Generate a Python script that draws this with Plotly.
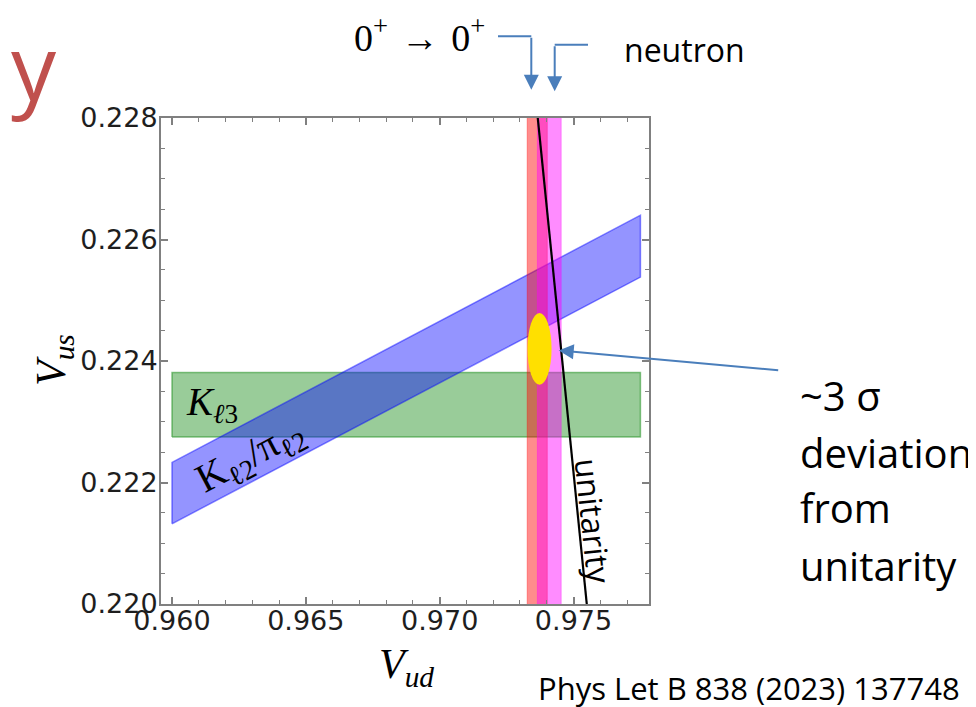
import plotly.graph_objects as go

# ---------------- data ----------------
x_ticks = [0.960, 0.965, 0.970, 0.975]
x_tick_text = ["0.960", "0.965", "0.970", "0.975"]
y_ticks = [0.220, 0.222, 0.224, 0.226, 0.228]
y_tick_text = ["0.220", "0.222", "0.224", "0.226", "0.228"]

# K_l3 horizontal band
kl3_vud = [0.960, 0.9775]
kl3_vus = [0.22275, 0.22381]

# K_l2 / pi_l2 slanted band (lower and upper edges at the two ends)
kl2_vud = [0.960, 0.9775]
kl2_vus_low = [0.22132, 0.22538]
kl2_vus_high = [0.22233, 0.22640]

# vertical bands: superallowed 0+ -> 0+ and neutron
superallowed_vud = [0.97327, 0.97402]
neutron_vud = [0.97365, 0.97454]
vertical_vus = [0.2185, 0.2295]

# combined fit ellipse (centre and half-widths)
fit_vud = 0.97373
fit_vus = 0.22420
fit_dvud = 0.00045
fit_dvus = 0.00059

# unitarity curve end points
unit_vud = [0.97355, 0.97561]
unit_vus = [0.2285, 0.2195]

# ---------------- layout geometry (pixels) ----------------
W, H = 976, 707
L, R, T, B = 153, 641, 110, 596


def pp(x, y):
    """pixel -> paper coordinates"""
    return (x - L) / (R - L), (B - y) / (B - T)


fig = go.Figure()

# green K_l3 band
fig.add_trace(go.Scatter(
    x=[kl3_vud[0], kl3_vud[1], kl3_vud[1], kl3_vud[0], kl3_vud[0]],
    y=[kl3_vus[0], kl3_vus[0], kl3_vus[1], kl3_vus[1], kl3_vus[0]],
    fill="toself", fillcolor="rgba(0,128,0,0.40)",
    line=dict(color="rgba(0,128,0,0.45)", width=1.5), mode="lines",
    hoverinfo="skip"))

# blue K_l2/pi_l2 band
fig.add_trace(go.Scatter(
    x=[kl2_vud[0], kl2_vud[1], kl2_vud[1], kl2_vud[0], kl2_vud[0]],
    y=[kl2_vus_low[0], kl2_vus_low[1], kl2_vus_high[1], kl2_vus_high[0], kl2_vus_low[0]],
    fill="toself", fillcolor="rgba(0,0,255,0.42)",
    line=dict(color="rgba(0,0,255,0.45)", width=1.5), mode="lines",
    hoverinfo="skip"))

# red superallowed band
fig.add_trace(go.Scatter(
    x=[superallowed_vud[0], superallowed_vud[1], superallowed_vud[1], superallowed_vud[0], superallowed_vud[0]],
    y=[vertical_vus[0], vertical_vus[0], vertical_vus[1], vertical_vus[1], vertical_vus[0]],
    fill="toself", fillcolor="rgba(255,0,0,0.45)",
    line=dict(color="rgba(255,0,0,0.35)", width=1), mode="lines",
    hoverinfo="skip"))

# magenta neutron band
fig.add_trace(go.Scatter(
    x=[neutron_vud[0], neutron_vud[1], neutron_vud[1], neutron_vud[0], neutron_vud[0]],
    y=[vertical_vus[0], vertical_vus[0], vertical_vus[1], vertical_vus[1], vertical_vus[0]],
    fill="toself", fillcolor="rgba(255,0,255,0.45)",
    line=dict(color="rgba(255,0,255,0.35)", width=1), mode="lines",
    hoverinfo="skip"))

# unitarity line
fig.add_trace(go.Scatter(
    x=unit_vud, y=unit_vus, mode="lines",
    line=dict(color="black", width=2.2), hoverinfo="skip"))

# yellow fit ellipse
fig.add_shape(type="circle", xref="x", yref="y",
              x0=fit_vud - fit_dvud, x1=fit_vud + fit_dvud,
              y0=fit_vus - fit_dvus, y1=fit_vus + fit_dvus,
              fillcolor="#FFE000", line=dict(width=0), layer="above")

ARROW = "#4A7EBB"
annotations = []


def text_ann(txt, px, py, size, family, color="black", xanchor="center",
             yanchor="middle", angle=0, **kw):
    x, y = pp(px, py)
    annotations.append(dict(
        text=txt, x=x, y=y, xref="paper", yref="paper", showarrow=False,
        xanchor=xanchor, yanchor=yanchor, textangle=angle,
        font=dict(size=size, family=family, color=color), **kw))


def arrow_ann(tip_px, tail_px):
    x, y = pp(*tip_px)
    annotations.append(dict(
        text="", x=x, y=y, xref="paper", yref="paper", showarrow=True,
        ax=tail_px[0] - tip_px[0], ay=tail_px[1] - tip_px[1],
        arrowhead=2, arrowsize=1.5, arrowwidth=2, arrowcolor=ARROW,
        standoff=0, startstandoff=0))


# labels inside the plot
text_ann("<i>K</i><sub><i>ℓ</i>3</sub>", 176, 396, 39, "Liberation Serif",
         xanchor="left")
text_ann("K<sub>ℓ2</sub>/π<sub>ℓ2</sub>", 242, 449, 40, "Liberation Serif",
         angle=-27.8)
text_ann("unitarity", 586, 513, 32, "Open Sans", angle=84)

# axis titles
text_ann("<i>V</i><sub><i>ud</i></sub>", 398, 659, 42, "Liberation Serif")
text_ann("<i>V</i><sub><i>us</i></sub>", 46, 352, 42, "Liberation Serif",
         angle=-90)

# top labels
text_ann("0<sup>+</sup>\u2004→\u20040<sup>+</sup>", 411, 27, 38,
         "Liberation Serif")
text_ann("neutron", 614, 41, 32, "Open Sans", xanchor="left")

# right-side comment
text_ann("~3 σ", 790, 387, 40, "Open Sans", xanchor="left")
text_ann("deviation", 790, 444, 40, "Open Sans", xanchor="left")
text_ann("from", 790, 499, 40, "Open Sans", xanchor="left")
text_ann("unitarity", 790, 557, 40, "Open Sans", xanchor="left")

# reference
text_ann("Phys Let B 838 (2023) 137748", 528, 680, 31, "Open Sans",
         xanchor="left")

# cut-off red title letter
text_ann("y", 1, 57, 90, "Open Sans", color="#C0504D", xanchor="left")

# arrows
arrow_ann((550.7, 342.5), (771.7, 362.3))
arrow_ann((523.3, 81.7), (523.3, 28.3))
arrow_ann((546.7, 83.3), (546.7, 36.7))

for (xa, xb, yy) in [(490, 523.3, 28.3), (580, 546.7, 36.7)]:
    x0, y0 = pp(xa, yy)
    x1, _ = pp(xb, yy)
    fig.add_shape(type="line", xref="paper", yref="paper",
                  x0=x0, x1=x1, y0=y0, y1=y0,
                  line=dict(color=ARROW, width=2))

AX_COLOR = "#808080"
common_axis = dict(
    showline=True, linecolor=AX_COLOR, linewidth=2, mirror="allticks",
    ticks="inside", ticklen=7, tickwidth=1.5, tickcolor=AX_COLOR,
    showgrid=False, zeroline=False,
    tickfont=dict(family="DejaVu Sans", size=27, color="#1e1e1e"),
)

fig.update_xaxes(
    range=[0.95959, 0.97782], tickmode="array", tickvals=x_ticks,
    ticktext=x_tick_text, ticklabelstandoff=-8,
    minor=dict(tick0=0.960, dtick=0.001, ticks="inside", ticklen=4,
               tickwidth=1.2, tickcolor=AX_COLOR),
    **common_axis)
fig.update_yaxes(
    range=[0.220, 0.228], tickmode="array", tickvals=y_ticks,
    ticktext=y_tick_text, ticklabelstandoff=-4,
    minor=dict(tick0=0.220, dtick=0.0005, ticks="inside", ticklen=4,
               tickwidth=1.2, tickcolor=AX_COLOR),
    **common_axis)

fig.update_layout(
    width=W, height=H,
    margin=dict(l=L, r=W - R, t=T, b=H - B, pad=0),
    plot_bgcolor="white", paper_bgcolor="white",
    showlegend=False,
    font=dict(family="Open Sans"),
    annotations=annotations,
)

fig.write_html("out.html")
